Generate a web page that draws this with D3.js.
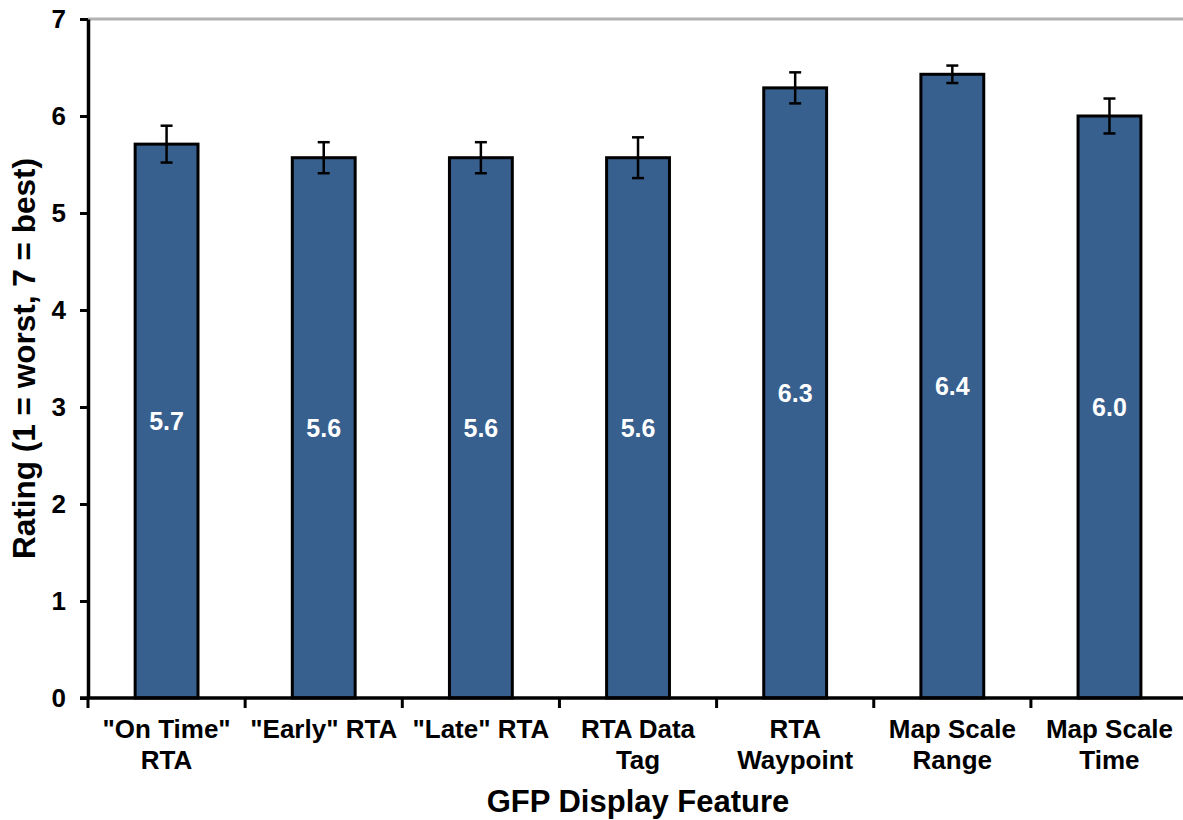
<!DOCTYPE html>
<html>
<head>
<meta charset="utf-8">
<script src="https://cdn.jsdelivr.net/npm/d3@7"></script>
<style>
  html, body { margin: 0; padding: 0; background: #fff; }
  svg { display: block; font-family: "Liberation Sans", Arial, sans-serif; font-weight: bold; }
</style>
</head>
<body>
<svg id="chart" width="1183" height="820"></svg>
<script>
// ---- data ----
const categories = ["\"On Time\"\nRTA", "\"Early\" RTA", "\"Late\" RTA", "RTA Data\nTag", "RTA\nWaypoint", "Map Scale\nRange", "Map Scale\nTime"];
const ratings = [5.71, 5.57, 5.57, 5.57, 6.29, 6.43, 6.00];
const errors = [0.19, 0.16, 0.16, 0.21, 0.16, 0.09, 0.18];
const yTicks = [0, 1, 2, 3, 4, 5, 6, 7];
const xTitle = "GFP Display Feature";
const yTitle = "Rating (1 = worst, 7 = best)";

// ---- layout ----
const svg = d3.select("#chart");
const mLeft = 88, mTop = 19, mBottom = 698, catStep = 157.15;
const mRight = mLeft + categories.length * catStep;

const x = d3.scaleBand().domain(categories).range([mLeft, mRight]).paddingInner(0.6).paddingOuter(0.3);
const y = d3.scaleLinear().domain([0, 7]).range([mBottom, mTop]);

const barColor = "#37608f";

// top gridline
svg.append("line")
  .attr("x1", mLeft).attr("x2", 1183)
  .attr("y1", y(7)).attr("y2", y(7))
  .attr("stroke", "#b2b2b2").attr("stroke-width", 3);

// bars
svg.append("g").selectAll("rect").data(categories).join("rect")
  .attr("x", d => x(d))
  .attr("y", (d, i) => y(ratings[i]))
  .attr("width", x.bandwidth())
  .attr("height", (d, i) => y(0) - y(ratings[i]))
  .attr("fill", barColor)
  .attr("stroke", "#000")
  .attr("stroke-width", 3);

// error bars
const eg = svg.append("g").attr("stroke", "#000").attr("stroke-width", 2.5);
categories.forEach((c, i) => {
  const cx = x(c) + x.bandwidth() / 2;
  const y1 = y(ratings[i] + errors[i]), y2 = y(ratings[i] - errors[i]);
  eg.append("line").attr("x1", cx).attr("x2", cx).attr("y1", y1).attr("y2", y2);
  eg.append("line").attr("x1", cx - 6).attr("x2", cx + 6).attr("y1", y1).attr("y2", y1);
  eg.append("line").attr("x1", cx - 6).attr("x2", cx + 6).attr("y1", y2).attr("y2", y2);
});

// value labels
const fmt = d3.format(".1f");
svg.append("g").selectAll("text").data(categories).join("text")
  .attr("x", d => x(d) + x.bandwidth() / 2)
  .attr("y", (d, i) => (y(ratings[i]) + y(0)) / 2)
  .attr("dy", "0.35em")
  .attr("text-anchor", "middle")
  .attr("fill", "#fff")
  .attr("font-size", 25)
  .text((d, i) => fmt(ratings[i]));

// y axis
const yAxis = svg.append("g").attr("transform", `translate(${mLeft},0)`)
  .call(d3.axisLeft(y).tickValues(yTicks).tickFormat(d3.format("d")).tickSize(8).tickSizeOuter(0).tickPadding(14));
yAxis.select(".domain").attr("stroke", "#000").attr("stroke-width", 3.5);
yAxis.selectAll(".tick line").attr("stroke", "#000").attr("stroke-width", 3);
yAxis.selectAll(".tick text").attr("font-size", 26).attr("font-weight", "bold")
  .attr("font-family", "'Liberation Sans', Arial, sans-serif").attr("fill", "#000");

// x axis line and boundary ticks
svg.append("line")
  .attr("x1", mLeft - 8).attr("x2", 1183)
  .attr("y1", y(0)).attr("y2", y(0))
  .attr("stroke", "#000").attr("stroke-width", 3.5);
const bounds = categories.map(c => x(c) - (x.step() - x.bandwidth()) / 2);
svg.append("g").selectAll("line").data(bounds).join("line")
  .attr("x1", d => d).attr("x2", d => d)
  .attr("y1", y(0)).attr("y2", y(0) + 10)
  .attr("stroke", "#000").attr("stroke-width", 3);

// category labels
const cl = svg.append("g").selectAll("text").data(categories).join("text")
  .attr("text-anchor", "middle")
  .attr("font-size", 26)
  .attr("fill", "#000");
cl.each(function(d) {
  const t = d3.select(this);
  const cx = x(d) + x.bandwidth() / 2;
  d.split("\n").forEach((line, k) => {
    t.append("tspan").attr("x", cx).attr("y", 738 + k * 31).text(line);
  });
});

// axis titles
svg.append("text")
  .attr("x", (mLeft + mRight) / 2).attr("y", 812)
  .attr("text-anchor", "middle").attr("font-size", 31).attr("fill", "#000")
  .text(xTitle);
svg.append("text")
  .attr("transform", `translate(35,${(mTop + mBottom) / 2}) rotate(-90)`)
  .attr("text-anchor", "middle").attr("font-size", 31.5).attr("fill", "#000")
  .text(yTitle);
</script>
</body>
</html>
